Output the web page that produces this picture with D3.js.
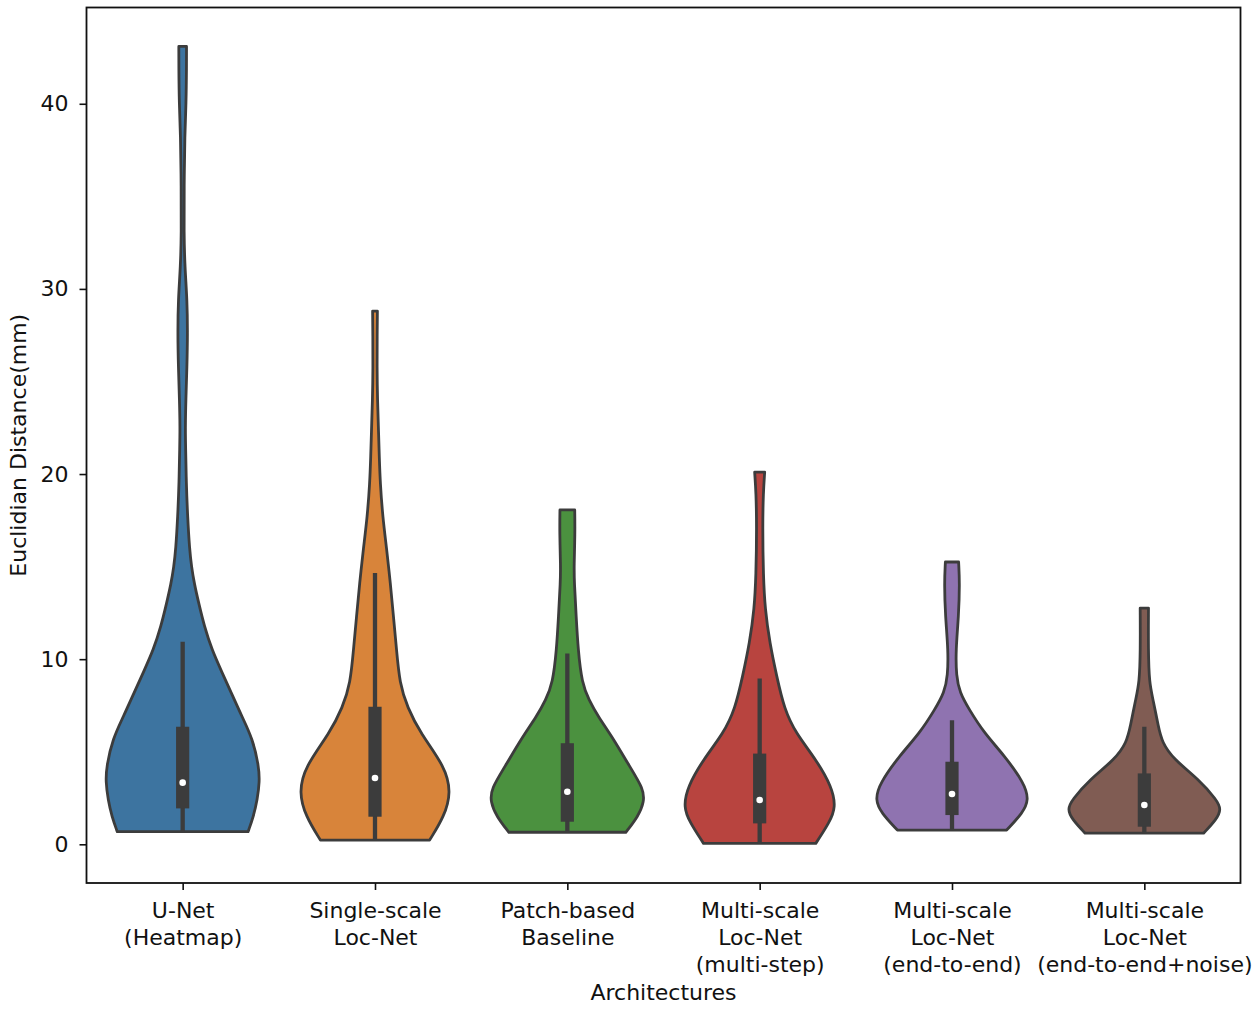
<!DOCTYPE html>
<meta charset="utf-8">
<html>
<head>
    <script src="https://d3js.org/d3.v7.min.js"></script>
    <style>
        body { margin: 0; background: #fff; }
        text { font-family: "DejaVu Sans", sans-serif; fill: #111; }
    </style>
</head>
<body>
<script>

    // categories and labels
    const categories = ["U-Net (Heatmap)", "Single-scale Loc-Net", "Patch-based Baseline",
        "Multi-scale Loc-Net (multi-step)", "Multi-scale Loc-Net (end-to-end)",
        "Multi-scale Loc-Net (end-to-end+noise)"];
    const tickLines = [
        ["U-Net", "(Heatmap)"],
        ["Single-scale", "Loc-Net"],
        ["Patch-based", "Baseline"],
        ["Multi-scale", "Loc-Net", "(multi-step)"],
        ["Multi-scale", "Loc-Net", "(end-to-end)"],
        ["Multi-scale", "Loc-Net", "(end-to-end+noise)"]
    ];
    const colors = ["#3d74a0", "#d8843a", "#4b913f", "#b8443f", "#8f73b0", "#805c53"];
    const yTicks = [0, 10, 20, 30, 40];

    // box plot stats (mm)
    const whiskerLow = [0.68, 0.23, 0.65, 0.05, 0.77, 0.60];
    const q1 = [1.94, 1.49, 1.22, 1.13, 1.58, 0.95];
    const medians = [3.33, 3.58, 2.84, 2.39, 2.72, 2.12];
    const q3 = [6.35, 7.43, 5.46, 4.90, 4.46, 3.83];
    const whiskerHigh = [10.94, 14.66, 10.3, 8.95, 6.7, 6.35];

    // violin outlines: [value, relative density]
    const densUNet = [[0.68, 0.85], [1.5, 0.92], [2.4, 0.97], [3.4, 1.0], [4.2, 0.99], [5.7, 0.91],
        [6.9, 0.77], [8.2, 0.63], [9.3, 0.51], [10.5, 0.38], [11.8, 0.28], [13.0, 0.21],
        [14.1, 0.15], [15.0, 0.115], [15.9, 0.09], [17.7, 0.064], [19.5, 0.047], [21.5, 0.038],
        [22.5, 0.034], [24, 0.041], [25.8, 0.056], [27.6, 0.064], [29.4, 0.058], [31.2, 0.028],
        [33, 0.017], [35.5, 0.019], [38.4, 0.027], [40, 0.045], [42, 0.05], [43.1, 0.05]];
    const densSingle = [[0.23, 0.71], [1.5, 0.90], [2.8, 0.99], [4.2, 0.91], [6.0, 0.59], [7.4, 0.42],
        [8.7, 0.32], [10.5, 0.28], [12.3, 0.24], [14.1, 0.2], [16, 0.15], [17.7, 0.1],
        [19.5, 0.068], [21, 0.055], [22.2, 0.047], [24, 0.032], [25.8, 0.026], [27.5, 0.028], [28.8, 0.031]];
    const densPatch = [[0.65, 0.76], [1.5, 0.92], [2.3, 1.0], [3.0, 0.99], [4.2, 0.81], [5.7, 0.60],
        [6.9, 0.40], [7.8, 0.28], [8.7, 0.19], [10.5, 0.14], [12.3, 0.115], [14.2, 0.09],
        [15.0, 0.087], [16.8, 0.1], [18.06, 0.096]];
    const densMultiStep = [[0.05, 0.73], [1.2, 0.91], [2.0, 0.99], [3.1, 0.94], [4.6, 0.73], [6.0, 0.47],
        [7.3, 0.32], [9.1, 0.22], [10.9, 0.13], [12.7, 0.07], [14.5, 0.047], [17.2, 0.038],
        [19.0, 0.047], [20.1, 0.065]];
    const densEndToEnd = [[0.77, 0.71], [1.7, 0.92], [2.4, 1.0], [3.3, 0.94], [4.8, 0.68], [6.0, 0.42],
        [7.3, 0.22], [8.2, 0.10], [9.1, 0.055], [10.5, 0.049], [12.3, 0.086], [14.1, 0.10], [15.25, 0.086]];
    const densNoise = [[0.6, 0.77], [1.35, 0.94], [1.9, 1.0], [2.4, 0.94], [3.5, 0.71], [4.6, 0.38],
        [5.5, 0.23], [6.4, 0.18], [7.8, 0.115], [8.7, 0.064], [10.5, 0.051], [12.76, 0.054]];
    const densities = [densUNet, densSingle, densPatch, densMultiStep, densEndToEnd, densNoise];

    const width = 1260;
    const height = 1009;
    const plotLeft = 86.5, plotRight = 1240.5, plotTop = 7.5, plotBottom = 883;
    const gray = "#3c3c3c";

    const svg = d3.select("body").append("svg")
        .attr("width", width)
        .attr("height", height);

    const x = d3.scalePoint()
        .domain(categories)
        .range([plotLeft, plotRight])
        .padding(0.5);

    const y = d3.scaleLinear()
        .domain([-2.09, 45.2])
        .range([plotBottom, plotTop]);

    // half width of a violin, 0.8 of the category step in total
    const w = d3.scaleLinear()
        .domain([0, 1])
        .range([0, x.step() * 0.4]);

    const rows = categories.map((c, i) => ({
        cat: c, color: colors[i], dens: densities[i],
        lo: whiskerLow[i], q1: q1[i], med: medians[i], q3: q3[i], hi: whiskerHigh[i]
    }));

    const g = svg.selectAll(".violin")
        .data(rows)
        .enter()
        .append("g")
        .attr("class", "violin")
        .attr("transform", d => `translate(${x(d.cat)},0)`);

    const area = d3.area()
        .y(d => y(d[0]))
        .x0(d => -w(d[1]))
        .x1(d => w(d[1]))
        .curve(d3.curveBasis);

    g.append("path")
        .attr("d", d => area(d.dens))
        .attr("fill", d => d.color)
        .attr("stroke", gray)
        .attr("stroke-width", 2.8)
        .attr("stroke-linejoin", "round");

    // whiskers
    g.append("line")
        .attr("y1", d => y(d.lo))
        .attr("y2", d => y(d.hi))
        .attr("stroke", gray)
        .attr("stroke-width", 4.3);

    // boxes
    g.append("rect")
        .attr("x", -6.6)
        .attr("width", 13.2)
        .attr("y", d => y(d.q3))
        .attr("height", d => y(d.q1) - y(d.q3))
        .attr("fill", gray);

    // medians
    g.append("circle")
        .attr("cy", d => y(d.med))
        .attr("r", 3.3)
        .attr("fill", "#fff");

    // axes
    const yAxis = svg.append("g")
        .attr("transform", `translate(${plotLeft},0)`)
        .call(d3.axisLeft(y).tickValues(yTicks).tickSize(7).tickPadding(11));

    const xAxis = svg.append("g")
        .attr("transform", `translate(0,${plotBottom})`)
        .call(d3.axisBottom(x).tickSize(7).tickFormat(""));

    [yAxis, xAxis].forEach(a => {
        a.select(".domain").remove();
        a.selectAll(".tick line").attr("stroke", "#111").attr("stroke-width", 1.6);
        a.selectAll("text").attr("font-size", 22).attr("font-family", "DejaVu Sans").attr("fill", "#111");
    });

    xAxis.selectAll(".tick")
        .append("text")
        .attr("text-anchor", "middle")
        .attr("font-size", 22)
        .attr("fill", "#111")
        .selectAll("tspan")
        .data((d, i) => tickLines[i])
        .enter()
        .append("tspan")
        .attr("x", 0)
        .attr("y", (d, j) => 35 + j * 27)
        .text(d => d);

    svg.append("rect")
        .attr("x", plotLeft)
        .attr("y", plotTop)
        .attr("width", plotRight - plotLeft)
        .attr("height", plotBottom - plotTop)
        .attr("fill", "none")
        .attr("stroke", "#111")
        .attr("stroke-width", 1.8);

    svg.append("text")
        .attr("x", (plotLeft + plotRight) / 2)
        .attr("y", 1000)
        .attr("text-anchor", "middle")
        .attr("font-size", 22)
        .text("Architectures");

    svg.append("text")
        .attr("transform", `translate(26,${(plotTop + plotBottom) / 2}) rotate(-90)`)
        .attr("text-anchor", "middle")
        .attr("font-size", 22)
        .text("Euclidian Distance(mm)");

</script>
</body>
</html>
